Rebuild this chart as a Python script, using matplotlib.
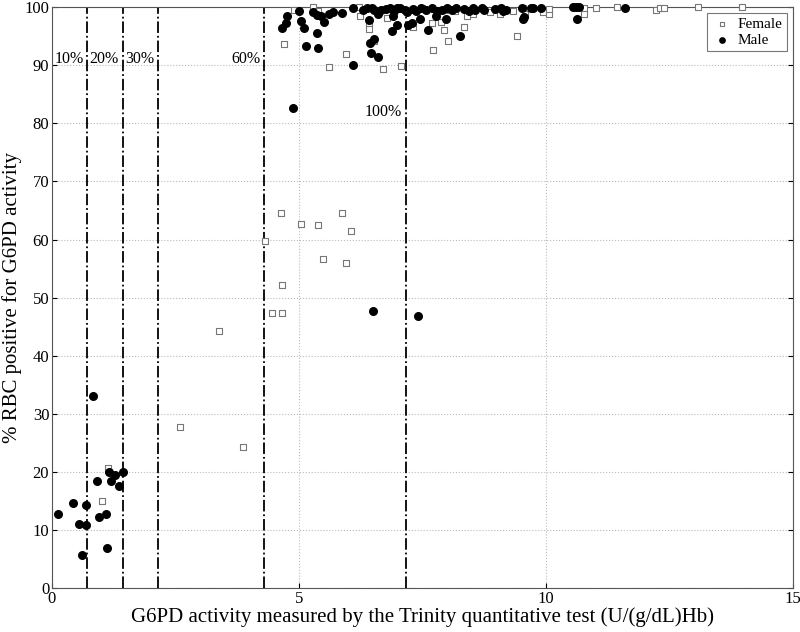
import matplotlib.pyplot as plt

plt.rcParams['font.family'] = ['Liberation Serif', 'DejaVu Serif']

# Female (open squares)
female_x = [1.13, 1.02, 2.60, 3.86, 3.38,
            4.31, 4.64, 5.04, 5.38, 5.87, 6.05, 5.49, 5.95, 4.66, 4.45, 4.66,
            4.70, 4.90, 5.28, 5.38, 5.61, 5.96, 6.22, 6.23, 6.42, 6.42, 6.53,
            6.71, 6.79, 7.06, 7.30, 7.70, 7.71, 7.87, 7.94, 8.02, 8.35, 8.41,
            8.52, 8.87, 9.08, 9.34, 9.42, 9.53, 9.57, 9.95, 10.06, 10.07,
            10.77, 10.77, 11.01, 11.44, 12.24, 12.31, 12.40, 13.08, 13.98,
            7.20, 7.50, 7.95, 8.15]
female_y = [20.6, 15.0, 27.8, 24.2, 44.2,
            59.7, 64.6, 62.6, 62.5, 64.6, 61.5, 56.7, 56.0, 52.1, 47.3, 47.3,
            93.6, 99.6, 100.0, 99.3, 89.7, 92.0, 100.0, 98.5, 97.1, 96.2, 94.1,
            89.4, 98.2, 89.9, 96.6, 97.2, 92.6, 97.4, 96.0, 94.1, 96.6, 98.5,
            98.8, 99.2, 98.8, 99.3, 95.1, 99.9, 98.8, 99.2, 98.9, 99.7,
            99.8, 98.8, 99.9, 100.0, 99.6, 99.8, 99.9, 100.0, 100.0,
            99.5, 99.8, 99.6, 99.4]

# Male (filled circles)
male_x = [0.84, 1.15, 1.27, 1.44, 0.91, 1.19, 1.36, 0.43, 0.69, 0.13, 1.10,
          0.95, 0.54, 0.69, 1.12, 0.61,
          6.50, 7.41, 4.88,
          5.00, 4.76, 4.74, 4.66, 5.05, 5.10, 5.14, 5.29, 5.36, 5.44, 5.51,
          5.36, 5.39, 5.61, 5.69, 5.88, 6.09, 6.10, 6.42, 6.44, 6.52, 6.46,
          6.61, 6.61, 6.90, 6.99, 6.89, 7.20, 7.28, 7.45, 7.62, 7.77, 7.98,
          8.26, 9.53, 9.55, 10.64,
          6.30, 6.38, 6.47, 6.52, 6.67, 6.77, 6.84, 6.92, 6.98, 7.04, 7.14,
          7.18, 7.31, 7.38, 7.48, 7.57, 7.69, 7.80, 7.89, 7.99, 8.09, 8.19,
          8.34, 8.45, 8.53, 8.56, 8.70, 8.74, 8.97, 9.10, 9.14, 9.19, 9.51,
          9.70, 9.74, 9.91, 10.55, 10.61, 10.68, 11.61]
male_y = [33.0, 19.9, 19.5, 20.0, 18.5, 18.4, 17.6, 14.6, 14.3, 12.8, 12.8,
          12.3, 11.1, 10.8, 6.9, 5.6,
          47.7, 46.8, 82.6,
          99.3, 98.5, 97.3, 96.4, 97.7, 96.4, 93.3, 99.2, 98.6, 98.5, 97.4,
          95.5, 93.0, 98.9, 99.1, 99.0, 99.9, 90.1, 97.8, 93.9, 94.6, 92.1,
          91.5, 98.8, 98.5, 97.0, 95.9, 96.9, 97.3, 97.9, 96.0, 98.5, 98.0,
          95.0, 98.0, 98.3, 97.9,
          99.5, 99.8, 99.9, 99.6, 99.6, 99.7, 99.8, 99.4, 99.8, 99.9, 99.5,
          99.2, 99.7, 99.4, 99.8, 99.5, 99.9, 99.3, 99.6, 99.8, 99.5, 99.9,
          99.7, 99.4, 99.8, 99.6, 99.9, 99.5, 99.7, 99.8, 99.4, 99.6, 99.9,
          99.8, 99.8, 99.9, 100.0, 100.0, 100.0, 99.9]

# cut-off lines at 10/20/30/60/100 % of normal activity
normal = 7.17
cut_pct = [10, 20, 30, 60, 100]
cut_label_y = [91, 91, 91, 91, 82]

fig = plt.figure(figsize=(8, 6.32), dpi=100)
ax = fig.add_axes([0.065, 0.0696, 0.926, 0.919])

ax.grid(True, linestyle=':', color='#bbbbbb', linewidth=0.8)
ax.set_axisbelow(True)

for p, ly in zip(cut_pct, cut_label_y):
    xc = normal * p / 100
    ax.axvline(xc, color='black', linestyle='-.', linewidth=1.3, zorder=2)
    ax.text(xc - 0.08, ly, '%d%%' % p, ha='right', va='center', fontsize=11.5, zorder=3)

ax.scatter(female_x, female_y, marker='s', s=22, facecolors='white',
           edgecolors='#777777', linewidths=0.8, label='Female', zorder=4, clip_on=False)
ax.scatter(male_x, male_y, marker='o', s=30, color='black', label='Male',
           zorder=5, clip_on=False)

ax.set_xlim(0, 15)
ax.set_ylim(0, 100)
ax.set_xticks([0, 5, 10, 15])
ax.set_yticks(range(0, 101, 10))
ax.tick_params(direction='in', labelsize=12, top=False, right=True, pad=2)
for s in ax.spines.values():
    s.set_color('#555555')

ax.set_xlabel('G6PD activity measured by the Trinity quantitative test (U/(g/dL)Hb)',
              fontsize=15, labelpad=0)
ax.set_ylabel('% RBC positive for G6PD activity', fontsize=15, labelpad=2)

leg = ax.legend(loc='upper right', fontsize=11, fancybox=False, edgecolor='#555555',
                borderaxespad=0.4, handletextpad=0.3, borderpad=0.25,
                labelspacing=0.15, handlelength=1.5, markerscale=0.7)
leg.get_frame().set_linewidth(0.8)

fig.savefig('out.png', dpi=100)
